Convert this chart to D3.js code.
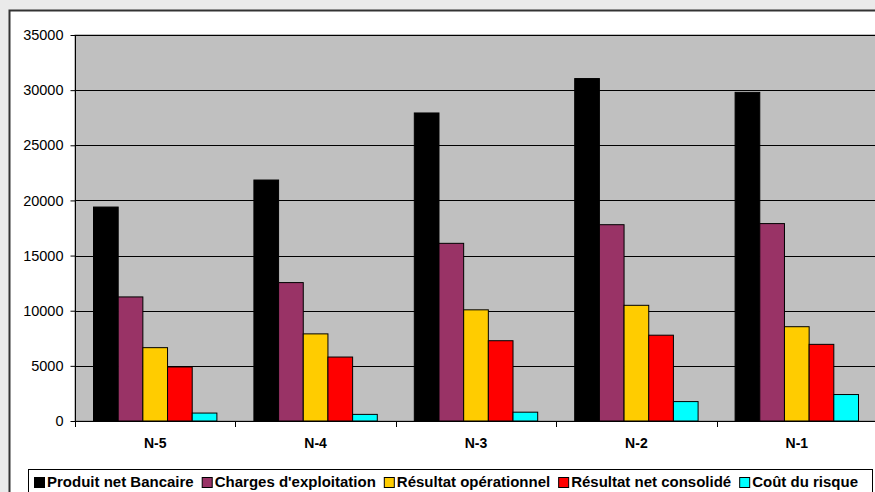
<!DOCTYPE html>
<html><head><meta charset="utf-8">
<script src="https://cdn.jsdelivr.net/npm/d3@7"></script>
<style>
html,body{margin:0;padding:0;background:#eaeaea;overflow:hidden}
svg{display:block;font-family:"Liberation Sans",Arial,sans-serif}
</style></head>
<body>
<script>
const categories = ["N-5","N-4","N-3","N-2","N-1"];
const seriesNames = ["Produit net Bancaire","Charges d'exploitation","Résultat opérationnel","Résultat net consolidé","Coût du risque"];
const seriesColors = ["#000000","#993366","#ffcc00","#ff0000","#00ffff"];
const produitNetBancaire = [19400, 21850, 27930, 31050, 29800];
const chargesExploitation = [11250, 12550, 16110, 17800, 17900];
const resultatOperationnel = [6650, 7900, 10080, 10490, 8550];
const resultatNetConsolide = [4900, 5800, 7280, 7780, 6950];
const coutDuRisque = [720, 600, 800, 1760, 2400];
const yTicks = [0,5000,10000,15000,20000,25000,30000,35000];

const series = [produitNetBancaire, chargesExploitation, resultatOperationnel, resultatNetConsolide, coutDuRisque];

const W = 875, H = 492;
const svg = d3.select("body").append("svg").attr("width", W).attr("height", H);

// chart area (white)
svg.append("rect").attr("x", 9.5).attr("y", 10.5).attr("width", W).attr("height", H)
  .attr("fill", "#fff").attr("stroke", "#333").attr("stroke-width", 2);

const pLeft = 75, pRight = 877, pTop = 35, pBottom = 421;
const x0 = d3.scaleBand().domain(categories).range([pLeft, pRight]).paddingInner(0).paddingOuter(0);
const bw = x0.bandwidth();
const gap = bw * 1.5 / 6.5;
const x1 = d3.scaleBand().domain(d3.range(seriesNames.length)).range([gap/2, bw - gap/2]).padding(0);
const y = d3.scaleLinear().domain([0, 35000]).range([pBottom, pTop]);

// plot area
svg.append("rect").attr("x", pLeft).attr("y", pTop).attr("width", pRight-pLeft).attr("height", pBottom-pTop)
  .attr("fill", "#c0c0c0").attr("stroke", "#808080").attr("stroke-width", 1);

// gridlines
svg.append("g").selectAll("line").data(yTicks.filter(t => t > 0)).join("line")
  .attr("x1", pLeft).attr("x2", pRight)
  .attr("y1", d => Math.round(y(d)) + 0.5).attr("y2", d => Math.round(y(d)) + 0.5)
  .attr("stroke", "#000").attr("stroke-width", 1);

// bars
const groups = svg.append("g").selectAll("g").data(categories).join("g")
  .attr("transform", d => `translate(${x0(d)},0)`);
groups.selectAll("rect").data((c, ci) => series.map((s, si) => ({si, v: s[ci]}))).join("rect")
  .attr("x", d => x1(d.si))
  .attr("width", x1.bandwidth())
  .attr("y", d => y(d.v))
  .attr("height", d => pBottom - y(d.v))
  .attr("fill", d => seriesColors[d.si])
  .attr("stroke", "#000").attr("stroke-width", 1);

// y axis
const yAxis = d3.axisLeft(y).tickValues(yTicks).tickSize(5).tickPadding(7).tickFormat(d3.format("d"));
const ya = svg.append("g").attr("transform", `translate(${pLeft + 0.5},0)`).call(yAxis);
ya.select(".domain").attr("stroke", "#000").attr("d", `M0,${pTop}V${pBottom}`);
ya.selectAll(".tick line").attr("stroke", "#000");
ya.selectAll(".tick text").attr("font-size", 14.5).attr("fill", "#000")
  .attr("font-family", "'Liberation Sans',Arial,sans-serif");

// x axis baseline and ticks
svg.append("line").attr("x1", pLeft).attr("x2", pRight).attr("y1", pBottom + 0.5).attr("y2", pBottom + 0.5)
  .attr("stroke", "#000");
svg.append("g").selectAll("line").data(categories).join("line")
  .attr("x1", d => Math.round(x0(d)) + 0.5).attr("x2", d => Math.round(x0(d)) + 0.5)
  .attr("y1", pBottom).attr("y2", pBottom + 6).attr("stroke", "#000");
svg.append("g").selectAll("text").data(categories).join("text")
  .attr("x", d => x0(d) + bw/2).attr("y", 448)
  .attr("text-anchor", "middle").attr("font-size", 14).attr("font-weight", "bold")
  .text(d => d);

// legend
const lg = svg.append("g");
lg.append("rect").attr("x", 28.5).attr("y", 469.5).attr("width", 844).attr("height", 40)
  .attr("fill", "#fff").attr("stroke", "#000").attr("stroke-width", 1);
let lx = 34;
seriesNames.forEach((name, i) => {
  lg.append("rect").attr("x", lx + 0.5).attr("y", 477.5).attr("width", 10).attr("height", 10)
    .attr("fill", seriesColors[i]).attr("stroke", "#000");
  const t = lg.append("text").attr("x", lx + 13).attr("y", 487)
    .attr("font-size", 15).attr("font-weight", "bold").text(name);
  lx += 13 + t.node().getComputedTextLength() + 8;
});
</script>
</body></html>
